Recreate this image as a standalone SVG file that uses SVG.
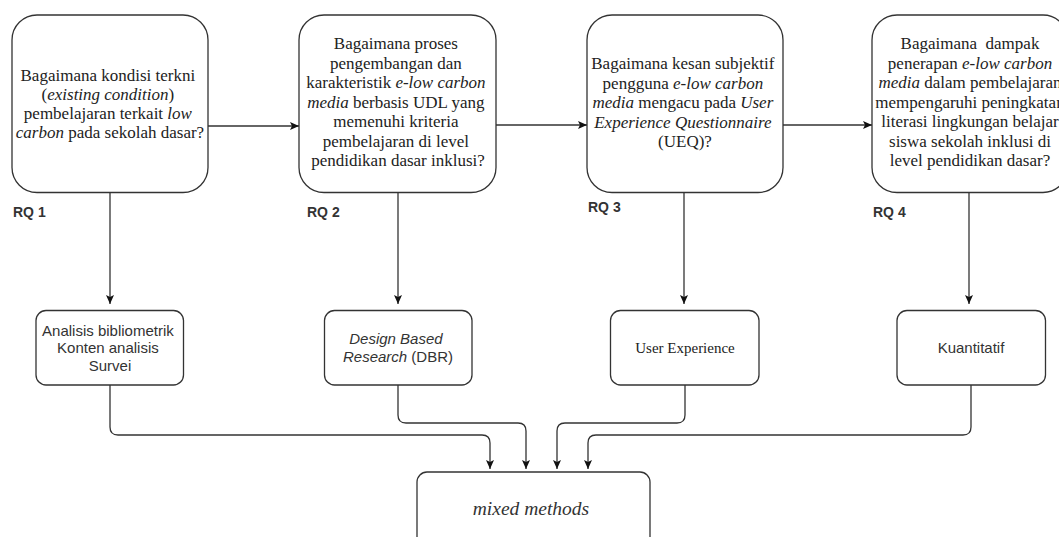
<svg xmlns="http://www.w3.org/2000/svg" width="1059" height="537" viewBox="0 0 1059 537">
  <style>
    .box { fill: #ffffff; stroke: #333333; stroke-width: 1.3; }
    .edge { fill: none; stroke: #333333; stroke-width: 1.3; }
    .q { font-family: "Liberation Serif", "Times New Roman", serif; font-size: 17px; fill: #222222; text-anchor: middle; }
    .s { font-family: "Liberation Sans", Arial, sans-serif; font-size: 15px; fill: #333333; text-anchor: middle; }
    .t { font-family: "Liberation Serif", "Times New Roman", serif; font-size: 15px; fill: #222222; text-anchor: middle; }
    .rq { font-family: "Liberation Sans", Arial, sans-serif; font-size: 14px; font-weight: bold; fill: #333333; }
    .i { font-style: italic; }
  </style>
  <defs>
    <marker id="arrow" viewBox="0 0 9 9" refX="9" refY="4.5" markerWidth="9" markerHeight="9" markerUnits="userSpaceOnUse" orient="auto">
      <path d="M0,0.5 L9,4.5 L0,8.5 L2,4.5 Z" fill="#111111"/>
    </marker>
  </defs>

  <rect width="1059" height="537" fill="#ffffff"/>

  <!-- connectors -->
  <g id="connectors" class="edge" marker-end="url(#arrow)">
    <path d="M208 126 H299"/>
    <path d="M496 125 H587"/>
    <path d="M783 125 H872"/>
    <path d="M110 192.5 V304"/>
    <path d="M398 192.5 V304"/>
    <path d="M684 192.5 V304"/>
    <path d="M969 192.5 V304"/>
    <path d="M110 385 V427 Q110 435 118 435 H482 Q490 435 490 443 V469"/>
    <path d="M398 385 V415 Q398 423 406 423 H518 Q526 423 526 431 V469"/>
    <path d="M685 385 V415 Q685 423 677 423 H565 Q557 423 557 431 V469"/>
    <path d="M971 385 V427 Q971 435 963 435 H596 Q588 435 588 443 V469"/>
  </g>

  <!-- research questions -->
  <g id="rq1">
    <rect class="box" x="12" y="15" width="196" height="177.5" rx="25" ry="25"/>
    <text class="q">
      <tspan x="110" y="81">Bagaimana kondisi terkni</tspan>
      <tspan x="110" y="100">(<tspan class="i">existing condition</tspan>)</tspan>
      <tspan x="110" y="119">pembelajaran terkait <tspan class="i">low</tspan></tspan>
      <tspan x="110" y="138"><tspan class="i">carbon</tspan> pada sekolah dasar?</tspan>
    </text>
    <text class="rq" x="13" y="217">RQ 1</text>
  </g>

  <g id="rq2">
    <rect class="box" x="299" y="15" width="197" height="177.5" rx="25" ry="25"/>
    <text class="q">
      <tspan x="398" y="49">Bagaimana proses</tspan>
      <tspan x="398" y="68.5">pengembangan dan</tspan>
      <tspan x="398" y="88">karakteristik <tspan class="i">e-low carbon</tspan></tspan>
      <tspan x="398" y="107.5"><tspan class="i">media</tspan> berbasis UDL yang</tspan>
      <tspan x="398" y="127">memenuhi kriteria</tspan>
      <tspan x="398" y="146.5">pembelajaran di level</tspan>
      <tspan x="398" y="166">pendidikan dasar inklusi?</tspan>
    </text>
    <text class="rq" x="307" y="217">RQ 2</text>
  </g>

  <g id="rq3">
    <rect class="box" x="587" y="15" width="196" height="177.5" rx="25" ry="25"/>
    <text class="q">
      <tspan x="685" y="69">Bagaimana kesan subjektif</tspan>
      <tspan x="685" y="88.5">pengguna <tspan class="i">e-low carbon</tspan></tspan>
      <tspan x="685" y="108"><tspan class="i">media</tspan> mengacu pada <tspan class="i">User</tspan></tspan>
      <tspan x="685" y="127.5" class="i">Experience Questionnaire</tspan>
      <tspan x="685" y="147">(UEQ)?</tspan>
    </text>
    <text class="rq" x="588" y="212">RQ 3</text>
  </g>

  <g id="rq4">
    <rect class="box" x="872" y="15" width="196" height="177.5" rx="25" ry="25"/>
    <text class="q" xml:space="preserve"><tspan x="970" y="49">Bagaimana  dampak</tspan><tspan x="970" y="68.5">penerapan <tspan class="i">e-low carbon</tspan></tspan><tspan x="970" y="88"><tspan class="i">media</tspan> dalam pembelajaran</tspan><tspan x="970" y="107.5">mempengaruhi peningkatan</tspan><tspan x="970" y="127">literasi lingkungan belajar</tspan><tspan x="970" y="146.5">siswa sekolah inklusi di</tspan><tspan x="970" y="166">level pendidikan dasar?</tspan></text>
    <text class="rq" x="873" y="217">RQ 4</text>
  </g>

  <!-- methods -->
  <g id="method1">
    <rect class="box" x="36" y="310.5" width="147.5" height="74.5" rx="10" ry="10"/>
    <text class="s">
      <tspan x="110" y="335.5">Analisis bibliometrik</tspan>
      <tspan x="110" y="353">Konten analisis</tspan>
      <tspan x="110" y="371">Survei</tspan>
    </text>
  </g>

  <g id="method2">
    <rect class="box" x="324.5" y="310.5" width="147.5" height="74.5" rx="10" ry="10"/>
    <text class="s">
      <tspan x="398" y="344" class="i">Design Based</tspan>
      <tspan x="398" y="362"><tspan class="i">Research</tspan> (DBR)</tspan>
    </text>
  </g>

  <g id="method3">
    <rect class="box" x="610.5" y="310.5" width="148.5" height="74.5" rx="10" ry="10"/>
    <text class="t" x="685" y="352.5">User Experience</text>
  </g>

  <g id="method4">
    <rect class="box" x="897" y="310.5" width="148.5" height="74.5" rx="10" ry="10"/>
    <text class="s" x="971" y="352.5">Kuantitatif</text>
  </g>

  <g id="mixed">
    <rect class="box" x="417" y="472" width="233" height="85" rx="10" ry="10"/>
    <text x="531" y="515" font-family="'Liberation Serif', 'Times New Roman', serif" font-size="19.5" font-style="italic" fill="#333333" text-anchor="middle">mixed methods</text>
  </g>
</svg>
